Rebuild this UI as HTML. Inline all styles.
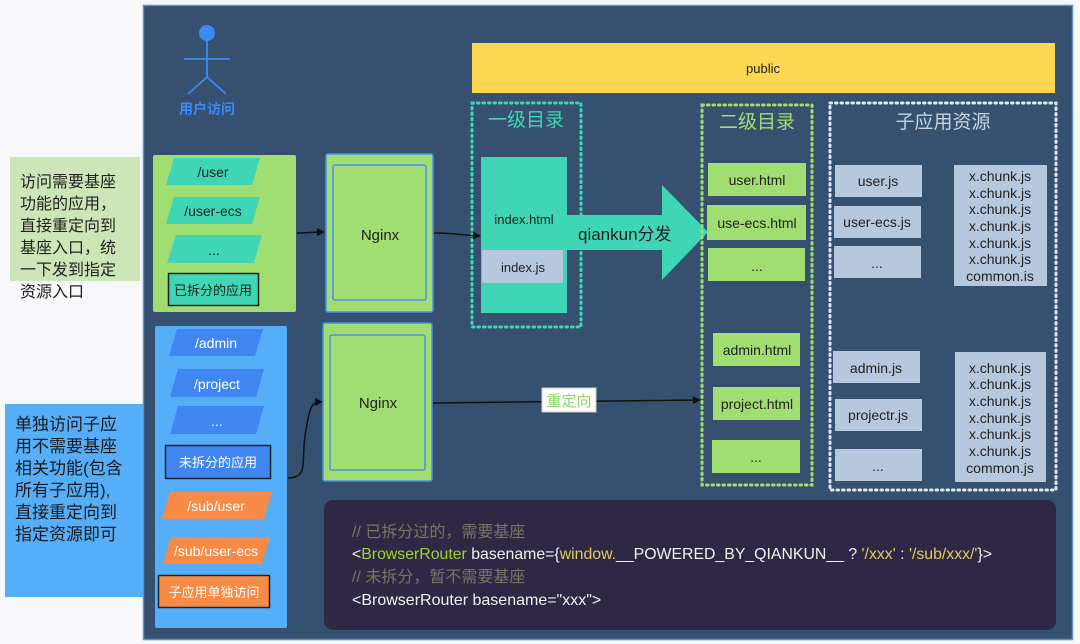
<!DOCTYPE html>
<html><head><meta charset="utf-8"><style>
html,body{margin:0;padding:0;background:#f6f8fa;}
svg{display:block}
text{font-family:"Liberation Sans","Noto Sans CJK SC",sans-serif;}
</style></head><body>
<svg width="1080" height="644" viewBox="0 0 1080 644" xmlns="http://www.w3.org/2000/svg">
<rect x="0" y="0" width="1080" height="644" fill="#f6f8fa"/>
<rect x="143.5" y="5.5" width="929" height="634" fill="#36516f" stroke="#5a8fe0" stroke-width="1.5"/>
<!-- left notes -->
<rect x="10" y="157" width="130" height="124" fill="#cde6b8"/>
<g font-size="16" fill="#222">
<text x="20" y="187">访问需要基座</text><text x="20" y="209">功能的应用，</text><text x="20" y="231">直接重定向到</text><text x="20" y="253">基座入口，统</text><text x="20" y="275">一下发到指定</text><text x="20" y="297">资源入口</text></g>
<rect x="5" y="404" width="138" height="193" fill="#56aef8"/>
<g font-size="17" fill="#1a1a1a">
<text x="15" y="430">单独访问子应</text><text x="15" y="452">用不需要基座</text><text x="15" y="474">相关功能(包含</text><text x="15" y="496">所有子应用),</text><text x="15" y="518">直接重定向到</text><text x="15" y="540">指定资源即可</text></g>
<!-- person -->
<g stroke="#3d8af7" stroke-width="1.8" fill="none">
<line x1="207" y1="40" x2="207" y2="77"/><line x1="184" y1="59" x2="230" y2="59"/>
<line x1="207" y1="77" x2="188" y2="94"/><line x1="207" y1="77" x2="226" y2="94"/></g>
<circle cx="207" cy="33" r="8" fill="#3d8af7"/>
<text x="207" y="114" font-size="14" font-weight="bold" fill="#3d8af7" text-anchor="middle">用户访问</text>
<!-- green group -->
<rect x="153" y="155" width="143" height="157" fill="#a0de72" rx="2"/>
<g fill="#3ed6b5"><polygon points="174,158 260,158 252,185 166,185"/><polygon points="174,197 260,197 252,224 166,224"/><polygon points="176,235 262,235 254,263 167,263"/></g>
<g font-size="14" fill="#222" text-anchor="middle"><text x="213" y="177">/user</text><text x="213" y="216">/user-ecs</text><text x="214" y="255">...</text></g>
<rect x="168.5" y="273.5" width="90" height="32" fill="#3ed6b5" stroke="#222" stroke-width="1.5"/>
<text x="213" y="295" font-size="13" fill="#222" text-anchor="middle">已拆分的应用</text>
<!-- blue group -->
<rect x="155" y="326" width="132" height="302" fill="#56aef8" rx="2"/>
<g fill="#3f86f0"><polygon points="177,329 263,329 255,356 169,356"/><polygon points="178,369 264,369 256,397 170,397"/><polygon points="178,406 264,406 256,434 170,434"/></g>
<g font-size="14" fill="#fff" text-anchor="middle"><text x="216" y="348">/admin</text><text x="217" y="389">/project</text><text x="217" y="426">...</text></g>
<rect x="165.5" y="445.5" width="105" height="33" fill="#3f86f0" stroke="#222" stroke-width="1.5"/>
<text x="218" y="467" font-size="13" fill="#fff" text-anchor="middle">未拆分的应用</text>
<g fill="#f78a45"><polygon points="170,492 272,492 264,519 162,519"/><polygon points="171,537 270,537 262,564 163,564"/></g>
<g font-size="14" fill="#fff" text-anchor="middle"><text x="216" y="511">/sub/user</text><text x="216" y="556">/sub/user-ecs</text></g>
<rect x="158.5" y="575.5" width="111" height="32" fill="#f78a45" stroke="#222" stroke-width="1.5"/>
<text x="214" y="597" font-size="13" fill="#fff" text-anchor="middle">子应用单独访问</text>
<!-- nginx -->
<rect x="326" y="154" width="107" height="158" fill="#a0de72" stroke="#4a8ff0" stroke-width="1.5" rx="2"/>
<rect x="333" y="165" width="93" height="135" fill="#a0de72" stroke="#4a8ff0" stroke-width="1.5" rx="2"/>
<text x="380" y="240" font-size="15" fill="#222" text-anchor="middle">Nginx</text>
<rect x="323" y="323" width="109" height="158" fill="#a0de72" stroke="#4a8ff0" stroke-width="1.5" rx="2"/>
<rect x="330" y="335" width="95" height="135" fill="#a0de72" stroke="#4a8ff0" stroke-width="1.5" rx="2"/>
<text x="378" y="408" font-size="15" fill="#222" text-anchor="middle">Nginx</text>
<!-- public -->
<rect x="472" y="43" width="583" height="50" fill="#fdd752"/>
<text x="763" y="73" font-size="13" fill="#222" text-anchor="middle">public</text>
<!-- 一级目录 -->
<rect x="472" y="103" width="109" height="224" fill="none" stroke="#3ed6b5" stroke-width="3" stroke-dasharray="1.5 4" stroke-linecap="round"/>
<text x="526" y="126" font-size="19" fill="#3ed6b5" text-anchor="middle">一级目录</text>
<rect x="481" y="157" width="86" height="156" fill="#3ed6b5"/>
<rect x="482" y="250" width="81" height="33" fill="#b6c8de"/>
<text x="524" y="224" font-size="13" fill="#222" text-anchor="middle">index.html</text>
<text x="523" y="272" font-size="13" fill="#222" text-anchor="middle">index.js</text>
<polygon points="567,215 662,215 662,185 708,232 662,280 662,250 567,250" fill="#3ed6b5"/>
<text x="578" y="240" font-size="17" fill="#222">qiankun分发</text>
<!-- 二级目录 -->
<rect x="702" y="105" width="110" height="380" fill="none" stroke="#a0de72" stroke-width="3" stroke-dasharray="1.5 4" stroke-linecap="round"/>
<text x="757" y="128" font-size="19" fill="#a0de72" text-anchor="middle">二级目录</text>
<g fill="#a0de72"><rect x="708" y="163" width="98" height="33"/><rect x="707" y="205" width="99" height="35"/><rect x="708" y="248" width="97" height="33"/>
<rect x="713" y="333" width="87" height="33"/><rect x="713" y="387" width="87" height="33"/><rect x="712" y="440" width="88" height="33"/></g>
<g font-size="14" fill="#222" text-anchor="middle"><text x="757" y="185">user.html</text><text x="757" y="228">use-ecs.html</text><text x="757" y="271">...</text>
<text x="757" y="355">admin.html</text><text x="757" y="409">project.html</text><text x="756" y="462">...</text></g>
<!-- 子应用资源 -->
<rect x="830" y="103" width="226" height="387" fill="none" stroke="#dfe6ee" stroke-width="3" stroke-dasharray="1.5 4" stroke-linecap="round"/>
<text x="943" y="128" font-size="19" fill="#c6d2e0" text-anchor="middle">子应用资源</text>
<g fill="#b6c8de"><rect x="835" y="165" width="87" height="32"/><rect x="834" y="206" width="87" height="32"/><rect x="834" y="246" width="87" height="32"/>
<rect x="954" y="165" width="93" height="121"/>
<rect x="833" y="351" width="87" height="32"/><rect x="835" y="399" width="87" height="32"/><rect x="835" y="449" width="87" height="32"/>
<rect x="955" y="352" width="91" height="130"/></g>
<g font-size="14" fill="#222" text-anchor="middle"><text x="878" y="186">user.js</text><text x="877" y="227">user-ecs.js</text><text x="877" y="268">...</text>
<text x="876" y="373">admin.js</text><text x="878" y="420">projectr.js</text><text x="878" y="471">...</text></g>
<g font-size="14" fill="#222" text-anchor="middle">
<text x="1000" y="181">x.chunk.js</text><text x="1000" y="198">x.chunk.js</text><text x="1000" y="214">x.chunk.js</text><text x="1000" y="231">x.chunk.js</text><text x="1000" y="248">x.chunk.js</text><text x="1000" y="264">x.chunk.js</text><text x="1000" y="281">common.is</text>
<text x="1000" y="373">x.chunk.js</text><text x="1000" y="389">x.chunk.js</text><text x="1000" y="406">x.chunk.js</text><text x="1000" y="423">x.chunk.js</text><text x="1000" y="439">x.chunk.js</text><text x="1000" y="456">x.chunk.js</text><text x="1000" y="473">common.js</text></g>
<!-- connectors -->
<defs><marker id="a" markerWidth="8" markerHeight="8" refX="7" refY="4" orient="auto" markerUnits="userSpaceOnUse"><path d="M0,0 L8,4 L0,8 Z" fill="#111"/></marker></defs>
<g stroke="#111" stroke-width="1.5" fill="none">
<path d="M297,233 C310,233 310,232 324,232" marker-end="url(#a)"/>
<path d="M434,233 C455,233 460,235 480,236" marker-end="url(#a)"/>
<path d="M288,478 C310,478 300,460 306,430 C310,405 312,402 322,402" marker-end="url(#a)"/>
<path d="M433,403 L700,400" marker-end="url(#a)"/>
</g>
<rect x="542" y="388" width="54" height="24" fill="#fff" stroke="#ccc"/>
<text x="569" y="406" font-size="15" fill="#8ed66a" text-anchor="middle">重定向</text>
<!-- code -->
<rect x="324" y="500" width="732" height="130" rx="9" fill="#2e2845"/>
<g font-size="16">
<text x="352" y="537" fill="#7a7462">// 已拆分过的，需要基座</text>
<text x="352" y="559" fill="#f0f0f0" textLength="640" lengthAdjust="spacingAndGlyphs">&lt;<tspan fill="#9fd32e">BrowserRouter</tspan> basename={<tspan fill="#e0c960">window.</tspan>__POWERED_BY_QIANKUN__ ? <tspan fill="#e0c960">'/xxx'</tspan> : <tspan fill="#e0c960">'/sub/xxx/'</tspan>}&gt;</text>
<text x="352" y="582" fill="#7a7462">// 未拆分，暂不需要基座</text>
<text x="352" y="605" fill="#f0f0f0">&lt;BrowserRouter basename="xxx"&gt;</text>
</g>
</svg>
</body></html>
